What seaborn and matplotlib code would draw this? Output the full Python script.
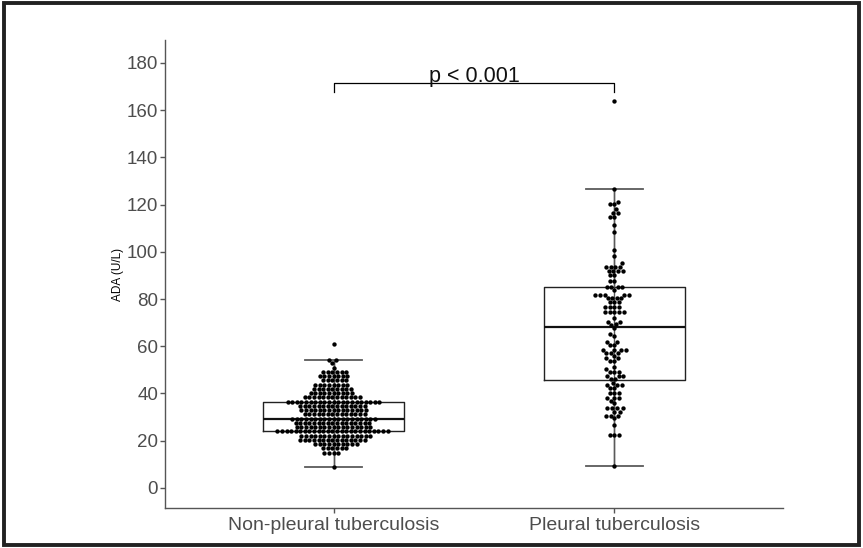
import numpy as np
import pandas as pd
import matplotlib.pyplot as plt
import seaborn as sns
from matplotlib.patches import Rectangle

groups = ['Non-pleural tuberculosis', 'Pleural tuberculosis']

# non-pleural group: dot rows (value, number of dots in row)
nonpleural_levels = [9.0, 15.0, 16.8, 18.6, 20.4, 22.2, 24.0, 25.8, 27.6, 29.4, 31.2, 33.0, 34.8,
                     36.6, 38.4, 40.2, 42.0, 43.8, 45.6, 47.4, 49.2, 51.0, 52.8, 54.0, 61.0]
nonpleural_counts = [1, 4, 6, 10, 15, 16, 25, 17, 17, 19, 14, 15, 15,
                     21, 13, 10, 9, 8, 6, 7, 6, 1, 1, 2, 1]

# pleural group: individual dots
pleural_values = [164, 126.4, 121.3, 120.2, 120.2, 118, 116.4, 116.4, 114.6, 114.6, 111.4, 108.3,
                  100.8, 98.3, 95.2, 93.7, 93.7, 93.7, 93.7, 92, 92, 92, 92, 90.2, 90.2, 87.7, 87.7,
                  85.3, 85.3, 85.3, 85.3,
                  84.0, 81.7, 81.7, 81.7, 81.7, 81.7, 80.3, 80.3, 80.3, 80.3, 78.7, 78.7, 78.7,
                  76.8, 76.8, 76.8, 76.8, 74.3, 74.3, 74.3, 74.3, 74.3, 71.9, 70.4, 70.4, 68.9, 69.5,
                  67.8, 65.2, 64.5, 62, 62, 60.6, 60.6, 58.4, 58.4, 58.4, 58.4, 57, 57, 57, 56,
                  54.9, 54.9, 53.8, 53.8, 51.4, 50.4, 49.3, 49.3, 49.3, 47.2, 47.2, 47.2, 46.1, 46.1,
                  44.4, 43.6, 43.6, 43.6, 42.2, 42.2, 40.1, 40.1, 40.1, 38, 38, 38, 36.9, 35.9,
                  33.8, 33.8, 33.8, 33.8, 32.3, 32.3, 30.6, 30.6, 30.6, 29.5, 26.5, 22.4, 22.4, 22.4, 9.3]

nonpleural_values = np.repeat(nonpleural_levels, nonpleural_counts)
df = pd.DataFrame({
    'group': [groups[0]] * len(nonpleural_values) + [groups[1]] * len(pleural_values),
    'ada': list(nonpleural_values) + pleural_values,
})

plt.rcParams['font.family'] = ['Liberation Sans', 'DejaVu Sans']

fig = plt.figure(figsize=(8.63, 5.48), dpi=100)
ax = fig.add_axes([0.1912, 0.073, 0.7161, 0.854])

# whisker line running through the box (errorbar style)
for i, g in enumerate(groups):
    v = df.loc[df.group == g, 'ada']
    q1, q3 = np.percentile(v, [25, 75])
    iqr = q3 - q1
    lo = v[v >= q1 - 1.5 * iqr].min()
    hi = v[v <= q3 + 1.5 * iqr].max()
    ax.vlines(i, lo, hi, color='#5a5a5a', lw=1, zorder=1)

sns.boxplot(data=df, x='group', y='ada', order=groups, width=0.5, fill=False,
            color='#222222', linecolor='#222222', linewidth=1, showfliers=False,
            capwidths=0.2,
            medianprops=dict(lw=1.6, color='#111111'),
            whiskerprops=dict(color='#5a5a5a', lw=1),
            capprops=dict(color='#5a5a5a', lw=1.3), ax=ax)
sns.swarmplot(data=df, x='group', y='ada', order=groups, color='black', size=3.15,
              ax=ax, zorder=3)

# significance bracket
ax.plot([0, 0, 1, 1], [167.5, 171.5, 171.5, 167.5], color='black', lw=0.9)
ax.text(0.5, 171.8, 'p < 0.001', ha='center', va='baseline', fontsize=15.5, color='#111111')

ax.set_xlim(-0.6, 1.6)
ax.set_ylim(-8.5, 189.7)
ax.set_yticks(range(0, 181, 20))
ax.set_xlabel('')
ax.set_ylabel('ADA (U/L)', fontsize=8.5, labelpad=2, color='black')
for s in ['top', 'right']:
    ax.spines[s].set_visible(False)
for s in ['left', 'bottom']:
    ax.spines[s].set_color('#555555')
    ax.spines[s].set_linewidth(1)
ax.tick_params(axis='both', color='#555555', length=3.5, width=1, labelcolor='#4d4d4d')
ax.tick_params(axis='y', labelsize=13.5, pad=1.5)
ax.tick_params(axis='x', labelsize=14, pad=3)

fig.add_artist(Rectangle((0.005, 0.006), 0.99, 0.988, transform=fig.transFigure,
                         fill=False, lw=2.8, ec='#222222'))

fig.savefig('out.png', dpi=100)
